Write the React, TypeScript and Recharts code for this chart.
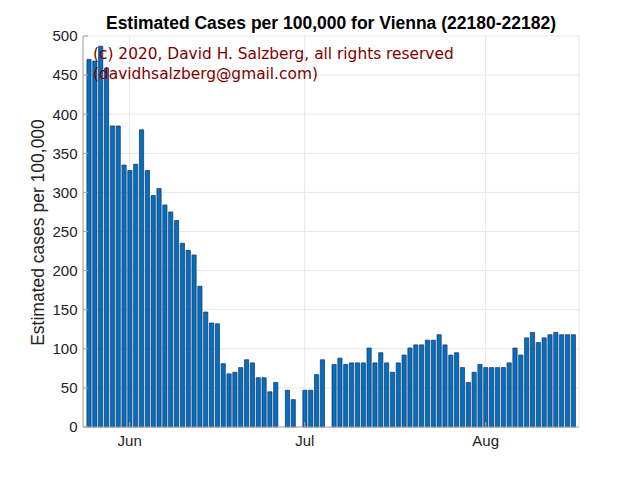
import React from "react";
import {
  Bar,
  BarChart,
  CartesianGrid,
  XAxis,
  YAxis,
} from "recharts";

// daily estimates, 25 May .. 16 Aug 2020 (null = no report)
const startDate = Date.UTC(2020, 4, 25);
const cases: (number | null)[] = [
  470, 468, 487, 459, 385, 385, 335, 328, 336, 380,
  328, 296, 305, 284, 275, 264, 235, 226, 220, 180,
  147, 133, 132, 81, 68, 70, 76, 86, 82, 63,
  63, 45, 57, null, 47, 35, null, 47, 47, 67,
  86, null, 80, 88, 80, 82, 82, 82, 101, 82,
  95, 82, 70, 82, 92, 101, 105, 105, 111, 111,
  118, 105, 92, 95, 76, 57, 70, 80, 76, 76,
  76, 76, 82, 101, 92, 114, 121, 108, 114, 118,
  121, 118, 118, 118,
];
const monthDates = [Date.UTC(2020, 5, 1), Date.UTC(2020, 6, 1), Date.UTC(2020, 7, 1)];
const monthLabels = ["Jun", "Jul", "Aug"];
const yTicks = [0, 50, 100, 150, 200, 250, 300, 350, 400, 450, 500];

const DAY = 86400000;
// x axis counts days from 24 May
const dayOf = (t: number) => Math.round((t - startDate) / DAY) + 1;
const data = cases.map((v, i) => ({ day: i + 1, cases: v }));
const monthTicks = monthDates.map(dayOf);
const xDomain = [0, cases.length + 1];

const axisColor = "#a6a6a6";
const font = "'Liberation Sans', Arial, Helvetica, sans-serif";

export default function App() {
  return (
    <div style={{ position: "relative", width: 640, height: 480, background: "#fff" }}>
      <style>{"body{margin:0}"}</style>
      <BarChart
        width={640}
        height={480}
        data={data}
        margin={{ top: 36, right: 61, bottom: 0, left: 0 }}
      >
        <CartesianGrid stroke="#e6e6e6" />
        <XAxis
          dataKey="day"
          type="number"
          domain={xDomain}
          allowDataOverflow
          ticks={monthTicks}
          interval={0}
          tickFormatter={(d) => monthLabels[monthTicks.indexOf(d)] ?? ""}
          height={53}
          stroke={axisColor}
          tickSize={-5}
          tickMargin={13}
          tick={{ fill: "#222", fontSize: 15, fontFamily: font }}
        />
        <XAxis
          xAxisId="top"
          orientation="top"
          dataKey="day"
          type="number"
          domain={xDomain}
          allowDataOverflow
          ticks={monthTicks}
          height={0}
          stroke={axisColor}
          tickSize={-5}
          tick={false}
        />
        <YAxis
          domain={[0, 500]}
          ticks={yTicks}
          interval={0}
          width={83}
          stroke={axisColor}
          tickSize={-5}
          tickMargin={10.5}
          tick={{ fill: "#222", fontSize: 15, fontFamily: font }}
        />
        <YAxis
          yAxisId="right"
          orientation="right"
          domain={[0, 500]}
          ticks={yTicks}
          width={0}
          stroke={axisColor}
          tickSize={-5}
          tick={false}
        />
        <Bar
          dataKey="cases"
          fill="#0072BD"
          stroke="#1b2c66"
          strokeWidth={0.7}
          barSize={4.2}
          isAnimationActive={false}
        />
      </BarChart>
      <svg
        width={640}
        height={480}
        style={{ position: "absolute", left: 0, top: 0, pointerEvents: "none" }}
      >
        <text
          x={331}
          y={29}
          textAnchor="middle"
          fontFamily={font}
          fontWeight="bold"
          fontSize={17.5}
          fill="#000"
        >
          Estimated Cases per 100,000 for Vienna (22180-22182)
        </text>
        <text
          transform="translate(43.5,232.5) rotate(-90)"
          textAnchor="middle"
          fontFamily={font}
          fontSize={17.5}
          fill="#222"
        >
          Estimated cases per 100,000
        </text>
        <text x={93} y={58.5} fontFamily="'DejaVu Sans', Verdana, sans-serif" fontSize={15.4} fill="#800000">
          (c) 2020, David H. Salzberg, all rights reserved
        </text>
        <text x={93} y={79} fontFamily="'DejaVu Sans', Verdana, sans-serif" fontSize={15.4} fill="#800000">
          (davidhsalzberg@gmail.com)
        </text>
      </svg>
    </div>
  );
}
